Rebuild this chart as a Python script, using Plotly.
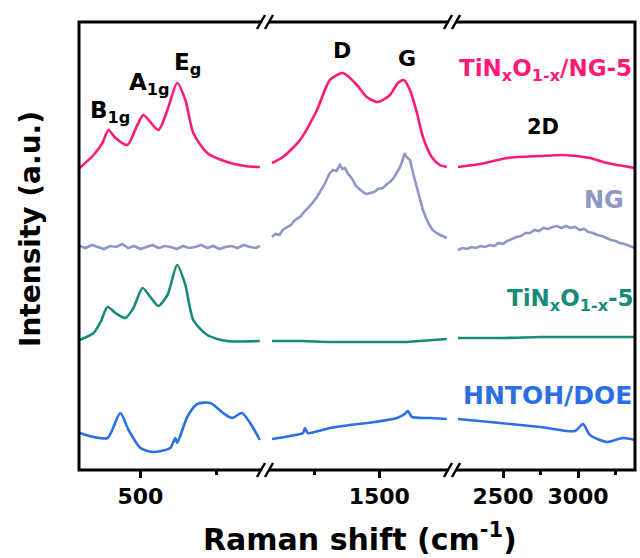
import plotly.graph_objects as go

# ---------------- data (Raman shift in cm-1, stacked intensity in a.u.) ----------------
# TiNxO1-x/NG-5
tng_x1 = [300, 346, 375, 395, 418, 457, 490, 510, 559, 589, 621, 648, 674, 720, 785, 844, 893]
tng_y1 = [302, 315, 327, 340, 332, 325, 345, 355, 340, 360, 387, 370, 337, 317, 308, 304, 303]
tng_x2 = [1087, 1129, 1195, 1260, 1310, 1360, 1414, 1452, 1495, 1541, 1572, 1595, 1618, 1645, 1668, 1702, 1733, 1760]
tng_y2 = [307, 313, 330, 360, 390, 397, 385, 373, 368, 375, 387, 390, 380, 357, 333, 313, 305, 303]
tng_x3 = [2200, 2347, 2527, 2747, 2900, 3080, 3193, 3380]
tng_y3 = [303, 306, 312, 314, 315, 312, 307, 302]

# NG
ng_x1 = [300, 320, 340, 360, 380, 400, 420, 440, 460, 480, 500, 520, 540, 560, 580, 600,
         620, 640, 660, 680, 700, 720, 740, 760, 780, 800, 820, 840, 860, 880, 893]
ng_y1 = [224, 222, 225, 223, 221, 224, 223, 226, 222, 224, 221, 223, 225, 222, 224, 223,
         221, 224, 222, 223, 225, 222, 224, 221, 223, 224, 222, 225, 223, 222, 224]
ng_x2 = [1087, 1100, 1115, 1129, 1145, 1160, 1175, 1195, 1210, 1225, 1240, 1260, 1275, 1290,
         1300, 1310, 1322, 1335, 1348, 1358, 1368, 1380, 1390, 1398, 1410, 1422, 1437, 1450,
         1464, 1480, 1495, 1514, 1530, 1545, 1558, 1568, 1580, 1590, 1598, 1605, 1618, 1630,
         1645, 1656, 1668, 1680, 1693, 1706, 1720, 1735, 1748, 1760]
ng_y2 = [233, 236, 235, 240, 243, 245, 250, 253, 258, 262, 266, 273, 279, 286,
         292, 297, 300, 299, 305, 301, 302, 296, 293, 290, 284, 281, 278, 276,
         277, 278, 281, 282, 286, 289, 293, 297, 303, 310, 317, 313, 310, 297,
         283, 271, 260, 252, 245, 240, 237, 235, 233, 232]
ng_x3 = [2200, 2230, 2260, 2290, 2320, 2350, 2380, 2413, 2440, 2470, 2500, 2527, 2560, 2590,
         2620, 2650, 2680, 2710, 2740, 2770, 2800, 2830, 2860, 2890, 2920, 2950, 2980, 3013,
         3040, 3070, 3100, 3130, 3160, 3193, 3220, 3250, 3280, 3310, 3340, 3380]
ng_y3 = [220, 222, 221, 223, 222, 224, 223, 225, 224, 227, 226, 229, 231, 233,
         234, 237, 237, 240, 239, 242, 241, 243, 244, 242, 244, 242, 243, 240,
         241, 238, 237, 235, 234, 232, 230, 229, 227, 226, 224, 222]

# TiNxO1-x-5
tn_x1 = [300, 346, 369, 392, 418, 451, 477, 507, 533, 559, 589, 621, 648, 674, 720, 785, 893]
tn_y1 = [130, 137, 148, 163, 157, 152, 162, 182, 173, 164, 175, 205, 185, 150, 135, 129, 129]
tn_x2 = [1087, 1200, 1310, 1400, 1502, 1600, 1656, 1760]
tn_y2 = [129, 129, 128, 128, 128, 128, 129, 131]
tn_x3 = [2200, 2500, 2747, 3000, 3380]
tn_y3 = [132, 132, 133, 133, 133]

# HNTOH/DOE
hn_x1 = [300, 346, 392, 434, 461, 500, 543, 598, 615, 621, 654, 687, 730, 772, 802, 834, 861, 893]
hn_y1 = [37, 33, 32, 57, 40, 22, 18, 22, 32, 27, 53, 66, 67, 57, 52, 57, 47, 30]
hn_x2 = [1087, 1156, 1206, 1214, 1225, 1310, 1387, 1483, 1568, 1598, 1610, 1626, 1695, 1760]
hn_y2 = [31, 34, 37, 42, 37, 42, 45, 48, 52, 56, 59, 53, 52, 51]
hn_x3 = [2200, 2413, 2747, 2980, 3033, 3080, 3193, 3300, 3380]
hn_y3 = [51, 48, 43, 39, 46, 35, 28, 32, 30]

# axis segments (broken x axis)
seg_ranges = [[298, 910], [1060, 1780], [2160, 3380]]
major_ticks = [[500], [1500], [2500, 3000]]
minor_ticks = [[750], [1250], [2750, 3250]]

# ---------------- styling ----------------
PINK = "#FF1A78"
LAV = "#8E98C8"
GREEN = "#168C78"
BLUE = "#2A6FE4"
FONT = "DejaVu Sans"

W, H = 640, 558
ML, MR, MT, MB = 79, 5, 22, 88
PW, PH = W - ML - MR, H - MT - MB


def fx(x):
    return (x - ML) / PW


def fy(y):
    return (H - MB - y) / PH


d1, d2 = fx(265), fx(452)
domains = [[0, d1], [d1, d2], [d2, 1]]

fig = go.Figure()

series = [
    (tng_x1, tng_y1, tng_x2, tng_y2, tng_x3, tng_y3, PINK, "spline"),
    (ng_x1, ng_y1, ng_x2, ng_y2, ng_x3, ng_y3, LAV, "linear"),
    (tn_x1, tn_y1, tn_x2, tn_y2, tn_x3, tn_y3, GREEN, "spline"),
    (hn_x1, hn_y1, hn_x2, hn_y2, hn_x3, hn_y3, BLUE, "spline"),
]
axes = ["x", "x2", "x3"]
for x1, y1, x2, y2, x3, y3, col, shape in series:
    for (xs, ys), ax in zip([(x1, y1), (x2, y2), (x3, y3)], axes):
        fig.add_trace(go.Scatter(
            x=xs, y=ys, xaxis=ax, yaxis="y", mode="lines",
            line=dict(color=col, width=2.6, shape=shape,
                      smoothing=0.7 if shape == "spline" else None),
            showlegend=False, hoverinfo="skip"))

axis_common = dict(
    showgrid=False, zeroline=False, showline=False, anchor="y",
    ticks="outside", ticklen=7, tickwidth=3, tickcolor="black",
    tickfont=dict(family=FONT, size=22, color="black", weight="bold"),
)
layout_axes = {}
for i, name in enumerate(["xaxis", "xaxis2", "xaxis3"]):
    layout_axes[name] = dict(
        axis_common, domain=domains[i], range=seg_ranges[i],
        tickmode="array", tickvals=major_ticks[i], ticktext=[str(v) for v in major_ticks[i]],
        minor=dict(tickmode="array", tickvals=minor_ticks[i], ticks="outside",
                   ticklen=4, tickwidth=2.5, tickcolor="black"),
    )

fig.update_layout(
    width=W, height=H,
    margin=dict(l=ML, r=MR, t=MT, b=MB),
    paper_bgcolor="white", plot_bgcolor="white",
    yaxis=dict(range=[0, 448], showgrid=False, zeroline=False, showline=False,
               showticklabels=False, ticks=""),
    **layout_axes,
)

# frame
shapes = [dict(type="rect", xref="paper", yref="paper", x0=0, x1=1, y0=0, y1=1,
               line=dict(color="black", width=3), layer="above")]


# break marks "//" on top and bottom axes
def break_marks(cx, cy):
    out = [dict(type="rect", xref="paper", yref="paper",
                x0=fx(cx - 4), x1=fx(cx + 4), y0=fy(cy + 3), y1=fy(cy - 3),
                line=dict(width=0), fillcolor="white", layer="above")]
    for dx in (-4, 4):
        out.append(dict(type="line", xref="paper", yref="paper",
                        x0=fx(cx + dx - 4), y0=fy(cy + 7), x1=fx(cx + dx + 4), y1=fy(cy - 7),
                        line=dict(color="black", width=2.5), layer="above"))
    return out


for cx in (265, 452):
    shapes += break_marks(cx, MT)
    shapes += break_marks(cx, H - MB)
fig.update_layout(shapes=shapes)


def label(text, x, y, color="black", size=22, xanchor="center"):
    fig.add_annotation(text=text, xref="paper", yref="paper", x=fx(x), y=fy(y),
                       xanchor=xanchor, yanchor="middle", showarrow=False,
                       font=dict(family=FONT, size=size, color=color, weight="bold"))


# peak assignments
label("B<sub>1g</sub>", 110, 112, size=23)
label("A<sub>1g</sub>", 149, 84, size=23)
label("E<sub>g</sub>", 187, 64, size=23)
label("D", 342, 50, size=22)
label("G", 407, 58, size=22)
label("2D", 543, 127, size=21)

# sample names
label("TiN<sub>x</sub>O<sub>1-x</sub>/NG-5", 634, 70, PINK, 23, "right")
label("NG", 626, 200, LAV, 24, "right")
label("TiN<sub>x</sub>O<sub>1-x</sub>-5", 636, 300, GREEN, 23, "right")
label("HNTOH/DOE", 634, 395, BLUE, 25, "right")

# axis titles
fig.add_annotation(text="Intensity (a.u.)", xref="paper", yref="paper",
                   x=fx(30), y=fy(229), textangle=-90, showarrow=False,
                   xanchor="center", yanchor="middle",
                   font=dict(family=FONT, size=28, color="black", weight="bold"))
fig.add_annotation(text="Raman shift (cm<sup>-1</sup>)", xref="paper", yref="paper",
                   x=fx(360), y=fy(537), showarrow=False,
                   xanchor="center", yanchor="middle",
                   font=dict(family=FONT, size=30, color="black", weight="bold"))

fig.write_html("out.html")
